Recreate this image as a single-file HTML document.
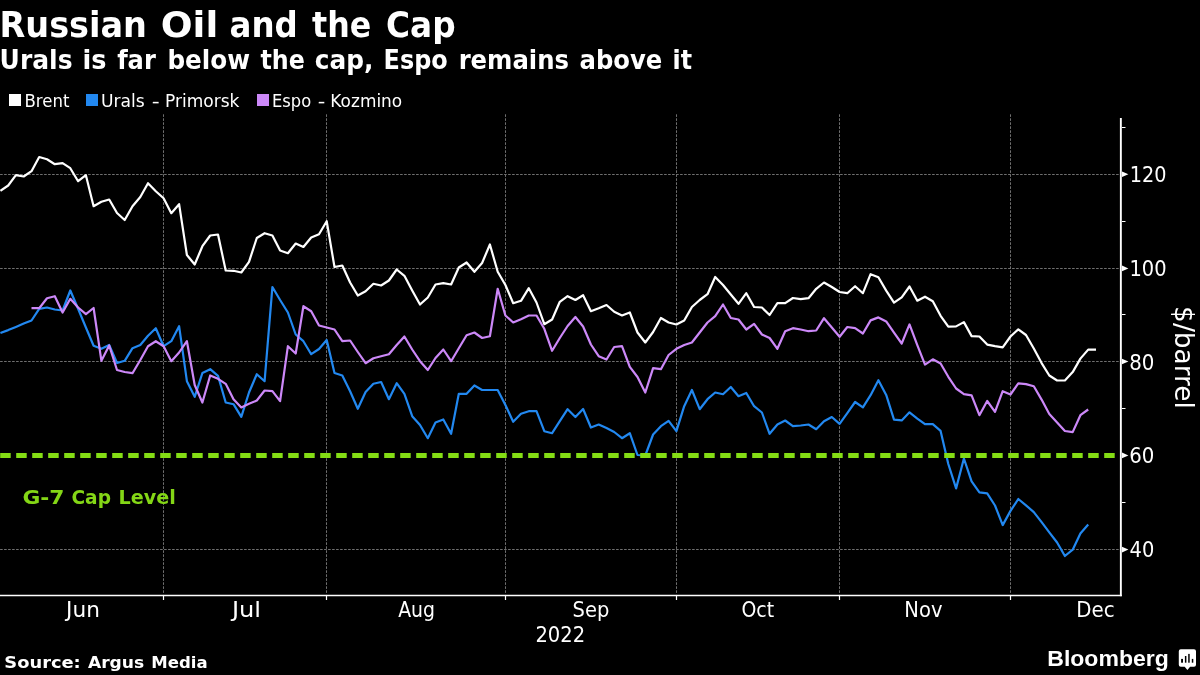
<!DOCTYPE html>
<html lang="en"><head><meta charset="utf-8"><title>Russian Oil and the Cap</title>
<style>
html,body{margin:0;padding:0;background:#000;}
body{width:1200px;height:675px;overflow:hidden;position:relative;font-family:"DejaVu Sans","Liberation Sans",sans-serif;color:#fff;}
svg{position:absolute;left:0;top:0;display:block;will-change:transform;}
text{font-family:"DejaVu Sans","Liberation Sans",sans-serif;fill:#fff;white-space:pre;}
.b{font-weight:bold;}
.g{stroke:#707070;stroke-width:1;stroke-dasharray:2.6 1.4;fill:none;}
.logo{font-family:"Liberation Sans","DejaVu Sans",sans-serif;font-weight:bold;}
</style></head><body>
<svg width="1200" height="675" viewBox="0 0 1200 675">
<rect width="1200" height="675" fill="#000"/>
<g id="legend">
<rect x="9" y="94" width="12" height="12" fill="#fff"/>
<rect x="86" y="94" width="12" height="12" fill="#2288f0"/>
<rect x="257" y="94" width="12" height="12" fill="#cc88f8"/>
</g>
<g id="grid">
<line class="g" x1="0.1" y1="174.5" x2="1120" y2="174.5"/>
<line class="g" x1="0.1" y1="268.5" x2="1120" y2="268.5"/>
<line class="g" x1="0.1" y1="361.5" x2="1120" y2="361.5"/>
<line class="g" x1="0.1" y1="549.5" x2="1120" y2="549.5"/>
<line class="g" x1="163.5" y1="114.3" x2="163.5" y2="594.5"/>
<line class="g" x1="326.5" y1="114.3" x2="326.5" y2="594.5"/>
<line class="g" x1="505.5" y1="114.3" x2="505.5" y2="594.5"/>
<line class="g" x1="676.5" y1="114.3" x2="676.5" y2="594.5"/>
<line class="g" x1="839.5" y1="114.3" x2="839.5" y2="594.5"/>
<line class="g" x1="1010.5" y1="114.3" x2="1010.5" y2="594.5"/>
</g>
<g id="series">
<polyline points="0.4,333.0 8.2,330.1 15.9,326.9 23.7,323.6 31.5,320.5 39.2,308.8 47.0,307.5 54.8,309.5 62.6,310.5 70.3,290.5 78.1,308.8 85.9,327.5 93.6,345.8 101.4,348.8 109.2,345.0 117.0,363.0 124.7,360.8 132.5,348.2 140.3,345.0 148.0,335.8 155.8,328.2 163.6,346.2 171.3,341.2 179.1,326.2 186.9,381.2 194.7,396.8 202.4,373.0 210.2,369.2 218.0,375.8 225.7,402.5 233.5,404.2 241.3,416.8 249.0,392.5 256.8,374.2 264.6,381.2 272.4,287.0 280.1,300.0 287.9,312.5 295.7,334.5 303.4,341.2 311.2,354.2 319.0,349.0 326.7,340.0 334.5,373.0 342.3,375.5 350.1,391.2 357.8,408.8 365.6,392.0 373.4,383.8 381.1,382.0 388.9,399.2 396.7,383.2 404.4,393.8 412.2,416.2 420.0,425.0 427.8,438.2 435.5,422.5 443.3,419.5 451.1,433.8 458.8,393.8 466.6,393.8 474.4,385.5 482.1,390.0 489.9,390.0 497.7,390.0 505.4,405.0 513.2,421.8 521.0,413.8 528.8,411.2 536.5,411.2 544.3,431.2 552.1,433.2 559.8,421.2 567.6,409.2 575.4,417.0 583.1,409.0 590.9,427.5 598.7,424.5 606.5,428.0 614.2,432.0 622.0,438.2 629.8,433.2 637.5,455.0 645.3,455.5 653.1,434.5 660.9,426.2 668.6,420.8 676.4,431.2 684.2,406.2 691.9,390.0 699.7,409.2 707.5,399.2 715.2,392.5 723.0,394.2 730.8,387.0 738.5,396.2 746.3,393.0 754.1,406.2 761.9,412.5 769.6,433.8 777.4,424.5 785.2,420.5 792.9,426.2 800.7,425.5 808.5,424.5 816.2,429.2 824.0,421.2 831.8,417.0 839.6,423.8 847.3,413.2 855.1,402.0 862.9,407.4 870.6,395.2 878.4,380.2 886.2,394.9 894.0,419.7 901.7,420.4 909.5,412.3 917.3,418.6 925.0,424.2 932.8,424.2 940.6,430.9 948.3,464.0 956.1,488.4 963.9,458.5 971.6,481.4 979.4,492.3 987.2,493.4 995.0,505.5 1002.7,525.1 1010.5,510.9 1018.3,499.0 1026.0,505.3 1033.8,512.1 1041.6,522.2 1049.3,532.3 1057.1,542.5 1064.9,556.0 1072.7,549.7 1080.4,533.5 1088.2,524.5" fill="none" stroke="#2288f0" stroke-width="2.2" stroke-linejoin="round" stroke-linecap="butt"/>
<polyline points="31.5,308.2 39.2,308.2 47.0,298.2 54.8,296.2 62.6,312.5 70.3,298.8 78.1,307.5 85.9,314.2 93.6,308.0 101.4,360.8 109.2,345.5 117.0,370.0 124.7,372.0 132.5,373.2 140.3,360.0 148.0,346.2 155.8,341.2 163.6,346.2 171.3,361.2 179.1,352.5 186.9,341.2 194.7,385.0 202.4,402.5 210.2,375.5 218.0,378.8 225.7,383.8 233.5,399.2 241.3,407.5 249.0,403.8 256.8,400.5 264.6,390.5 272.4,391.2 280.1,401.2 287.9,346.2 295.7,353.5 303.4,306.2 311.2,311.2 319.0,325.5 326.7,327.5 334.5,329.5 342.3,341.2 350.1,340.5 357.8,352.0 365.6,363.2 373.4,358.2 381.1,356.2 388.9,354.2 396.7,345.0 404.4,336.5 412.2,349.5 420.0,361.2 427.8,370.0 435.5,358.0 443.3,349.5 451.1,361.2 458.8,348.2 466.6,335.2 474.4,332.5 482.1,338.0 489.9,336.2 497.7,288.8 505.4,315.5 513.2,322.5 521.0,319.2 528.8,315.5 536.5,315.5 544.3,328.8 552.1,350.8 559.8,338.0 567.6,326.0 575.4,317.0 583.1,326.5 590.9,344.5 598.7,356.2 606.5,359.5 614.2,347.0 622.0,346.2 629.8,366.8 637.5,377.0 645.3,392.5 653.1,368.2 660.9,369.2 668.6,355.0 676.4,348.8 684.2,345.0 691.9,342.5 699.7,332.5 707.5,322.5 715.2,316.2 723.0,304.5 730.8,318.0 738.5,319.5 746.3,329.5 754.1,323.8 761.9,334.5 769.6,338.0 777.4,348.8 785.2,331.2 792.9,328.2 800.7,329.5 808.5,331.2 816.2,330.5 824.0,318.2 831.8,327.5 839.6,336.8 847.3,327.0 855.1,328.2 862.9,333.5 870.6,320.4 878.4,317.4 886.2,321.4 894.0,332.7 901.7,343.5 909.5,324.4 917.3,345.1 925.0,364.6 932.8,359.3 940.6,363.5 948.3,376.8 956.1,388.5 963.9,394.2 971.6,395.3 979.4,415.2 987.2,401.0 995.0,411.8 1002.7,391.2 1010.5,394.5 1018.3,383.3 1026.0,384.1 1033.8,386.3 1041.6,399.6 1049.3,414.1 1057.1,422.4 1064.9,431.0 1072.7,432.1 1080.4,415.2 1088.2,409.5" fill="none" stroke="#cc88f8" stroke-width="2.2" stroke-linejoin="round" stroke-linecap="butt"/>
<polyline points="0.4,190.8 8.2,185.5 15.9,175.2 23.7,176.5 31.5,171.2 39.2,157.0 47.0,159.2 54.8,164.2 62.6,163.2 70.3,168.2 78.1,181.2 85.9,175.2 93.6,206.2 101.4,201.8 109.2,199.5 117.0,213.0 124.7,220.0 132.5,206.2 140.3,197.0 148.0,183.2 155.8,191.2 163.6,198.2 171.3,213.2 179.1,204.2 186.9,255.0 194.7,264.5 202.4,246.2 210.2,235.5 218.0,234.5 225.7,270.5 233.5,270.8 241.3,272.5 249.0,261.8 256.8,238.0 264.6,233.2 272.4,235.5 280.1,250.5 287.9,253.2 295.7,243.5 303.4,247.0 311.2,237.5 319.0,234.2 326.7,221.2 334.5,267.0 342.3,265.5 350.1,282.5 357.8,295.5 365.6,291.2 373.4,283.8 381.1,285.5 388.9,280.5 396.7,269.5 404.4,275.8 412.2,290.5 420.0,304.5 427.8,297.5 435.5,284.5 443.3,283.2 451.1,284.5 458.8,267.5 466.6,262.5 474.4,271.8 482.1,263.0 489.9,244.5 497.7,271.8 505.4,285.0 513.2,303.2 521.0,300.8 528.8,288.2 536.5,302.5 544.3,324.2 552.1,319.5 559.8,301.8 567.6,296.2 575.4,300.0 583.1,295.2 590.9,311.2 598.7,308.2 606.5,305.0 614.2,311.8 622.0,315.5 629.8,312.5 637.5,332.5 645.3,342.5 653.1,332.0 660.9,318.0 668.6,322.5 676.4,324.5 684.2,320.5 691.9,307.0 699.7,300.0 707.5,294.2 715.2,277.0 723.0,285.0 730.8,294.5 738.5,303.8 746.3,293.2 754.1,307.0 761.9,307.5 769.6,315.0 777.4,303.2 785.2,303.2 792.9,298.0 800.7,299.2 808.5,298.2 816.2,288.8 824.0,282.5 831.8,287.0 839.6,292.0 847.3,293.2 855.1,286.2 862.9,293.2 870.6,274.2 878.4,277.3 886.2,290.6 894.0,302.7 901.7,297.3 909.5,286.5 917.3,300.7 925.0,296.7 932.8,301.2 940.6,315.8 948.3,326.6 956.1,326.4 963.9,322.1 971.6,336.1 979.4,336.5 987.2,344.6 995.0,346.2 1002.7,347.3 1010.5,336.5 1018.3,329.3 1026.0,335.0 1033.8,348.5 1041.6,363.1 1049.3,375.5 1057.1,380.5 1064.9,380.5 1072.7,372.1 1080.4,358.6 1088.2,349.6 1096.0,349.6" fill="none" stroke="#ffffff" stroke-width="2.2" stroke-linejoin="round" stroke-linecap="butt"/>
</g>
<line x1="0.2" y1="455.5" x2="1120" y2="455.5" stroke="#84dc14" stroke-width="5" stroke-dasharray="10.5 5.5"/>
<g id="axes" fill="#fff">
<rect x="0" y="594.75" width="1121.8" height="1.5"/>
<rect x="1119.9" y="118" width="1.9" height="478.2"/>
<rect x="162.9" y="596" width="1.2" height="4"/>
<rect x="325.9" y="596" width="1.2" height="4"/>
<rect x="504.9" y="596" width="1.2" height="4"/>
<rect x="675.9" y="596" width="1.2" height="4"/>
<rect x="838.9" y="596" width="1.2" height="4"/>
<rect x="1009.9" y="596" width="1.2" height="4"/>
<rect x="1122" y="127" width="3.5" height="1"/>
<rect x="1122" y="221" width="3.5" height="1"/>
<rect x="1122" y="314" width="3.5" height="1"/>
<rect x="1122" y="408" width="3.5" height="1"/>
<rect x="1122" y="502" width="3.5" height="1"/>
<polygon points="1122,171.4 1128.4,174.2 1122,177.0"/>
<polygon points="1122,265.6 1128.4,268.4 1122,271.2"/>
<polygon points="1122,358.7 1128.4,361.5 1122,364.3"/>
<polygon points="1122,452.6 1128.4,455.4 1122,458.2"/>
<polygon points="1122,546.8 1128.4,549.6 1122,552.4"/>
</g>
<text id="title" class="b" y="37" font-size="35"><tspan x="-0.44" textLength="147.41" lengthAdjust="spacingAndGlyphs">Russian</tspan> <tspan x="160.79" textLength="57.47" lengthAdjust="spacingAndGlyphs">Oil</tspan> <tspan x="229.50" textLength="68.26" lengthAdjust="spacingAndGlyphs">and</tspan> <tspan x="312.04" textLength="59.12" lengthAdjust="spacingAndGlyphs">the</tspan> <tspan x="385.99" textLength="69.59" lengthAdjust="spacingAndGlyphs">Cap</tspan></text>
<text id="sub" class="b" y="69" font-size="26"><tspan x="-0.39" textLength="72.89" lengthAdjust="spacingAndGlyphs">Urals</tspan> <tspan x="82.41" textLength="23.97" lengthAdjust="spacingAndGlyphs">is</tspan> <tspan x="117.13" textLength="38.66" lengthAdjust="spacingAndGlyphs">far</tspan> <tspan x="167.46" textLength="82.61" lengthAdjust="spacingAndGlyphs">below</tspan> <tspan x="260.47" textLength="44.37" lengthAdjust="spacingAndGlyphs">the</tspan> <tspan x="314.83" textLength="58.57" lengthAdjust="spacingAndGlyphs">cap,</tspan> <tspan x="383.55" textLength="64.23" lengthAdjust="spacingAndGlyphs">Espo</tspan> <tspan x="458.63" textLength="110.34" lengthAdjust="spacingAndGlyphs">remains</tspan> <tspan x="579.49" textLength="82.80" lengthAdjust="spacingAndGlyphs">above</tspan> <tspan x="672.53" textLength="19.45" lengthAdjust="spacingAndGlyphs">it</tspan></text>
<text id="lg1" y="106.9" font-size="17"><tspan x="24.49" textLength="44.94" lengthAdjust="spacingAndGlyphs">Brent</tspan></text>
<text id="lg2" y="106.9" font-size="17"><tspan x="100.94" textLength="43.81" lengthAdjust="spacingAndGlyphs">Urals</tspan> <tspan x="151.70" textLength="7.92" lengthAdjust="spacingAndGlyphs">-</tspan> <tspan x="165.01" textLength="74.47" lengthAdjust="spacingAndGlyphs">Primorsk</tspan></text>
<text id="lg3" y="106.9" font-size="17"><tspan x="272.04" textLength="39.12" lengthAdjust="spacingAndGlyphs">Espo</tspan> <tspan x="317.80" textLength="7.54" lengthAdjust="spacingAndGlyphs">-</tspan> <tspan x="330.36" textLength="71.83" lengthAdjust="spacingAndGlyphs">Kozmino</tspan></text>
<text id="g7" class="b" y="503.8" font-size="19.5" style="fill:#84d616"><tspan x="22.45" textLength="42.05" lengthAdjust="spacingAndGlyphs">G-7</tspan> <tspan x="71.51" textLength="39.45" lengthAdjust="spacingAndGlyphs">Cap</tspan> <tspan x="118.46" textLength="57.33" lengthAdjust="spacingAndGlyphs">Level</tspan></text>
<text id="src" class="b" y="667.8" font-size="16.6"><tspan x="4.31" textLength="76.47" lengthAdjust="spacingAndGlyphs">Source:</tspan> <tspan x="87.95" textLength="56.26" lengthAdjust="spacingAndGlyphs">Argus</tspan> <tspan x="151.35" textLength="56.24" lengthAdjust="spacingAndGlyphs">Media</tspan></text>
<text id="xJun" y="617" font-size="22"><tspan x="66.10" textLength="33.81" lengthAdjust="spacingAndGlyphs">Jun</tspan></text>
<text id="xJul" y="617" font-size="22"><tspan x="231.91" textLength="29.13" lengthAdjust="spacingAndGlyphs">Jul</tspan></text>
<text id="xAug" y="617" font-size="22"><tspan x="398.13" textLength="36.78" lengthAdjust="spacingAndGlyphs">Aug</tspan></text>
<text id="xSep" y="617" font-size="22"><tspan x="572.58" textLength="36.74" lengthAdjust="spacingAndGlyphs">Sep</tspan></text>
<text id="xOct" y="617" font-size="22"><tspan x="741.46" textLength="32.69" lengthAdjust="spacingAndGlyphs">Oct</tspan></text>
<text id="xNov" y="617" font-size="22"><tspan x="904.34" textLength="38.14" lengthAdjust="spacingAndGlyphs">Nov</tspan></text>
<text id="xDec" y="617" font-size="22"><tspan x="1076.33" textLength="38.37" lengthAdjust="spacingAndGlyphs">Dec</tspan></text>
<text id="x2022" y="641.8" font-size="21"><tspan x="535.41" textLength="49.69" lengthAdjust="spacingAndGlyphs">2022</tspan></text>
<text id="y120" y="182.15" font-size="22"><tspan x="1129.78" textLength="36.72" lengthAdjust="spacingAndGlyphs">120</tspan></text>
<text id="y100" y="275.85" font-size="22"><tspan x="1129.51" textLength="37.11" lengthAdjust="spacingAndGlyphs">100</tspan></text>
<text id="y80" y="369.55" font-size="22"><tspan x="1129.21" textLength="25.22" lengthAdjust="spacingAndGlyphs">80</tspan></text>
<text id="y60" y="463.25" font-size="22"><tspan x="1129.27" textLength="25.16" lengthAdjust="spacingAndGlyphs">60</tspan></text>
<text id="y40" y="556.95" font-size="22"><tspan x="1129.56" textLength="24.72" lengthAdjust="spacingAndGlyphs">40</tspan></text>
<text id="bbg" class="logo" y="666" font-size="22.3"><tspan x="1047.25" textLength="121.53" lengthAdjust="spacingAndGlyphs">Bloomberg</tspan></text>
<text id="ytitle" font-size="26" transform="translate(1175.4,306.1) rotate(90) scale(1.015,1)">$/barrel</text>
<g id="bbicon">
<path d="M1180.8,649.2 h13.2 a2,2 0 0 1 2,2 v13.5 a2,2 0 0 1 -2,2 h-3.9 l-2.7,3.3 l-2.7,-3.3 h-3.9 a2,2 0 0 1 -2,-2 v-13.5 a2,2 0 0 1 2,-2 z" fill="#fff"/>
<rect x="1181.1" y="658.9" width="1.9" height="3.8" fill="#000"/>
<rect x="1184.9" y="656" width="1.5" height="6.7" fill="#000"/>
<rect x="1188.2" y="653.9" width="1.5" height="8.8" fill="#000"/>
<rect x="1191.8" y="658.9" width="1.5" height="3.8" fill="#000"/>
</g>
</svg>
</body></html>
